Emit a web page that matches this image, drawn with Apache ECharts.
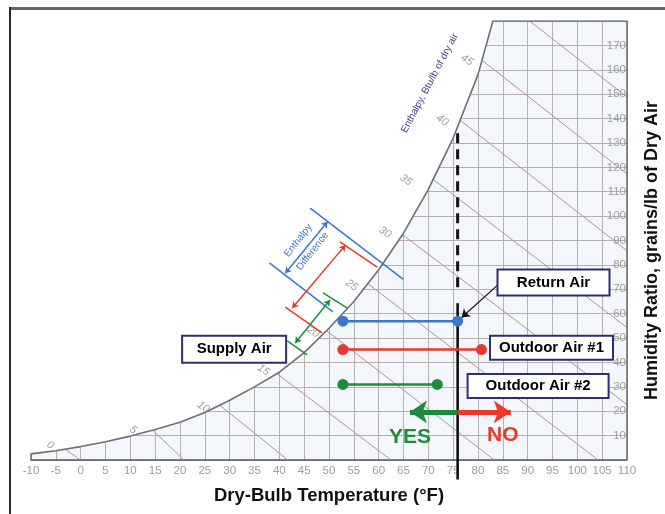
<!DOCTYPE html>
<html><head><meta charset="utf-8">
<script src="https://cdn.jsdelivr.net/npm/echarts@6/dist/echarts.min.js"></script>
<style>html,body{margin:0;padding:0;background:#fff}#c{width:665px;height:514px}</style>
</head><body><div id="c"></div>
<script>
// ---- data (°F, grains/lb) ----
const tempTicks = [-10,-5,0,5,10,15,20,25,30,35,40,45,50,55,60,65,70,75,80,85,90,95,100,105,110];
const ratioTicks = [10,20,30,40,50,60,70,80,90,100,110,120,130,140,150,160,170];
const satTemp  = [-10,-5,0,5,10,15,20,25,30,35,40,45,50,55,60,65,70,75,80,83];
const satRatio = [2.5,3.8,5.5,7.5,9.8,12.5,15.5,19.5,24.5,30,36,44,54,65,78,93,111,132,158,180];
const enthalpyValues = [0,5,10,15,20,25,30,35,40,45,50];
const enthalpyStart = [[-3,4.2],[14.5,12.2],[28,22.5],[39.5,35.4],[49.5,53],[57.8,72.3],[64.8,92.4],[71,115],[76.4,139.3],[80.8,163.9],[90.4,180]];
const enthalpyEnd   = [[0,0],[20.8,0],[41.7,0],[62.5,0],[83.3,0],[104.2,0],[110,22.7],[110,54.3],[110,85.8],[110,117.3],[110,148.8]];
const enthalpyLabelAt = [[-6.1,6.1],[10.6,12.3],[24.7,21.7],[36.8,36.9],[46.8,52.5],[54.6,71.7],[61.3,93.4],[65.5,114.8],[72.8,139.3],[77.8,164]];

const returnLine  = [[52.8,56.9],[75.9,56.9]];
const outdoor1Line = [[52.8,45.3],[80.7,45.3]];
const outdoor2Line = [[52.8,31.0],[71.8,31.0]];

const blueBracket  = [[[46.2,103.3],[64.9,74.2]],[[38.0,80.8],[50.8,60.7]]];
const blueDim      = [[41.2,76.6],[49.7,97.7]];
const redBracket   = [[[52.2,89.4],[59.7,79.1]],[[41.2,62.7],[48.6,52.1]]];
const redDim       = [[42.6,62.3],[53.3,88.1]];
const greenBracket = [[[48.8,68.5],[53.7,62.3]],[[41.6,48.8],[45.6,43.1]]];
const greenDim     = [[43.2,48.0],[50.2,65.6]];

const returnTemp = 75.9;
const dashedSpan = [134, 68.4];
const solidSpan  = [64.3, -8];
const pointerArrow = [[84.0,71.8],[76.7,58.4]];
const yesArrow = [[75.9,19.7],[66.3,19.7]];
const noArrow  = [[75.9,19.7],[86.6,19.7]];

const boxes = [
  ['Return Air', 95.2, 72.8],
  ['Outdoor Air #1', 94.8, 46.0],
  ['Outdoor Air #2', 92.1, 30.3],
  ['Supply Air', 30.9, 45.4]
];
const words = [['YES', 66.3, 9.4], ['NO', 85.0, 10.0]];
const enthalpyTitle = ['Enthalpy, Btu/lb of dry air', 70.3, 154.5];
const diffWords = [['Enthalpy', 43.8, 90.0], ['Difference', 46.7, 85.6]];

// ---- styles ----
const FONT = '"Liberation Sans", Arial, sans-serif';
const BLUE = '#3a78c9', RED = '#e8392c', GREEN = '#1f8a3a', NAVY = '#2e2e6e';
const boxSize = {'Return Air':[110,24], 'Outdoor Air #1':[121,22], 'Outdoor Air #2':[139,22], 'Supply Air':[102,25]};

const curve = satTemp.map((t,i)=>[t, satRatio[i]]);
const outline = [[-10,0]].concat(curve, [[110,180],[110,0]]);

function seg(pairs){ return pairs.map(p=>({coords:p})); }

const chart = echarts.init(document.getElementById('c'), null, {renderer:'canvas'});
const series = [];
const solid = {opacity:1};
// white cover above saturation curve
series.push({type:'line', data:[[-12,2.5]].concat(curve,[[110,180]]), symbol:'none', silent:true,
  lineStyle:{width:0}, areaStyle:{color:'#ffffff', opacity:1, origin:'end'}, z:2});
// enthalpy lines
series.push({type:'lines', coordinateSystem:'cartesian2d', silent:true, z:3,
  lineStyle:{color:'#a39896', width:1, opacity:1},
  data: enthalpyValues.map((h,i)=>({coords:[enthalpyStart[i], enthalpyEnd[i]]}))});
// outline (saturation curve + frame)
series.push({type:'line', data:outline, symbol:'none', silent:true, z:4,
  lineStyle:{color:'#6e6e6e', width:1.6}});
// enthalpy numbers
series.push({type:'scatter', symbolSize:0, silent:true, z:5, itemStyle:solid,
  data: enthalpyLabelAt.map((p,i)=>({value:p, name:String(enthalpyValues[i])})),
  label:{show:true, position:'inside', formatter:'{b}', rotate:-35, fontStyle:'italic',
    color:'#a3a3a3', fontSize:11, fontFamily:FONT}});
// enthalpy title
series.push({type:'scatter', symbolSize:0, silent:true, z:5, itemStyle:solid,
  data:[{value:[enthalpyTitle[1],enthalpyTitle[2]], name:enthalpyTitle[0]}],
  label:{show:true, position:'inside', formatter:'{b}', rotate:62, color:'#3d3d8c', fontSize:10, fontFamily:FONT}});
// brackets
[[blueBracket,BLUE],[redBracket,RED],[greenBracket,GREEN]].forEach(([b,c])=>{
  series.push({type:'lines', coordinateSystem:'cartesian2d', silent:true, z:6,
    lineStyle:{color:c, width:1.5, opacity:1}, data:seg(b)});
});
[[blueDim,BLUE],[redDim,RED],[greenDim,GREEN]].forEach(([d,c])=>{
  series.push({type:'lines', coordinateSystem:'cartesian2d', silent:true, z:6,
    symbol:['arrow','arrow'], symbolSize:6,
    lineStyle:{color:c, width:1.5, opacity:1}, data:[{coords:d}]});
});
series.push({type:'scatter', symbolSize:0, silent:true, z:6, itemStyle:solid,
  data: diffWords.map(w=>({value:[w[1],w[2]], name:w[0]})),
  label:{show:true, position:'inside', formatter:'{b}', rotate:52, color:BLUE, fontSize:10, fontFamily:FONT}});
// vertical return air line
series.push({type:'line', data:[[returnTemp,dashedSpan[0]],[returnTemp,dashedSpan[1]]], symbol:'none', z:7,
  lineStyle:{color:'#111', width:3, type:[10,6]}});
series.push({type:'line', data:[[returnTemp,solidSpan[0]],[returnTemp,solidSpan[1]]], symbol:'none', z:7, clip:false,
  lineStyle:{color:'#111', width:2.6}});
// process lines
[[returnLine,BLUE],[outdoor1Line,RED],[outdoor2Line,GREEN]].forEach(([l,c])=>{
  series.push({type:'line', data:l, symbol:'circle', symbolSize:11, showSymbol:true, z:8,
    itemStyle:{color:c}, lineStyle:{color:c, width:2.5}});
});
// pointer arrow
series.push({type:'lines', coordinateSystem:'cartesian2d', silent:true, z:9,
  symbol:['none','arrow'], symbolSize:8, lineStyle:{color:'#111', width:1.2, opacity:1},
  data:[{coords:pointerArrow}]});
// yes / no arrows
series.push({type:'lines', coordinateSystem:'cartesian2d', silent:true, z:9,
  symbol:['none','arrow'], symbolSize:17, lineStyle:{color:GREEN, width:5, opacity:1}, data:[{coords:yesArrow}]});
series.push({type:'lines', coordinateSystem:'cartesian2d', silent:true, z:9,
  symbol:['none','arrow'], symbolSize:17, lineStyle:{color:RED, width:5, opacity:1}, data:[{coords:noArrow}]});
series.push({type:'scatter', symbolSize:0, silent:true, z:9, itemStyle:solid,
  data: words.map((w,i)=>({value:[w[1],w[2]], name:w[0], label:{color: i===0?GREEN:RED}})),
  label:{show:true, position:'inside', formatter:'{b}', fontSize:21, fontWeight:'bold', fontFamily:FONT}});
// boxes
series.push({type:'scatter', symbolSize:0, silent:true, z:10, itemStyle:solid,
  data: boxes.map(b=>({value:[b[1],b[2]], name:b[0], label:{width:boxSize[b[0]][0], height:boxSize[b[0]][1], lineHeight:boxSize[b[0]][1]}})),
  label:{show:true, position:'inside', formatter:'{b}', align:'center', verticalAlign:'middle',
    backgroundColor:'#fff', borderColor:NAVY, borderWidth:2, padding:0,
    color:'#000', fontSize:15, fontWeight:'bold', fontFamily:FONT}});

chart.setOption({
  animation:false,
  backgroundColor:'#fff',
  grid:{left:31, right:38, top:21, bottom:54, containLabel:false, outerBoundsMode:'none',
    show:true, backgroundColor:'#f3f7fb', borderWidth:0},
  xAxis:{type:'value', min:-10, max:110, interval:5,
    axisLine:{show:true, onZero:false, lineStyle:{color:'#555', width:1.6}}, axisTick:{show:false},
    axisLabel:{color:'#9c9c9c', fontSize:11.5, margin:5, fontFamily:FONT,
      formatter:v=>tempTicks.includes(v)?String(v):''},
    splitLine:{show:true, lineStyle:{color:'#b9afac', width:1}},
    name:'Dry-Bulb Temperature (°F)', nameLocation:'middle', nameGap:26,
    nameTextStyle:{color:'#111', fontSize:18.5, fontWeight:'bold', fontFamily:FONT}},
  yAxis:{type:'value', position:'right', min:0, max:180, interval:10,
    axisLine:{show:false}, axisTick:{show:false},
    axisLabel:{inside:true, margin:1, color:'#9c9c9c', fontSize:11.5, fontFamily:FONT,
      formatter:v=>ratioTicks.includes(v)?String(v):''},
    splitLine:{show:true, lineStyle:{color:'#b9afac', width:1}},
    name:'Humidity Ratio, grains/lb of Dry Air', nameLocation:'middle', nameGap:16, nameRotate:90,
    nameTextStyle:{color:'#111', fontSize:18, fontWeight:'bold', fontFamily:FONT, padding:[0,20,0,0]}},
  graphic:[
    {type:'rect', shape:{x:10, y:7, width:660, height:3}, style:{fill:'#666'}, silent:true},
    {type:'rect', shape:{x:9, y:7, width:2, height:520}, style:{fill:'#2a2a2a'}, silent:true}
  ],
  series: series
});
</script>
</body></html>
